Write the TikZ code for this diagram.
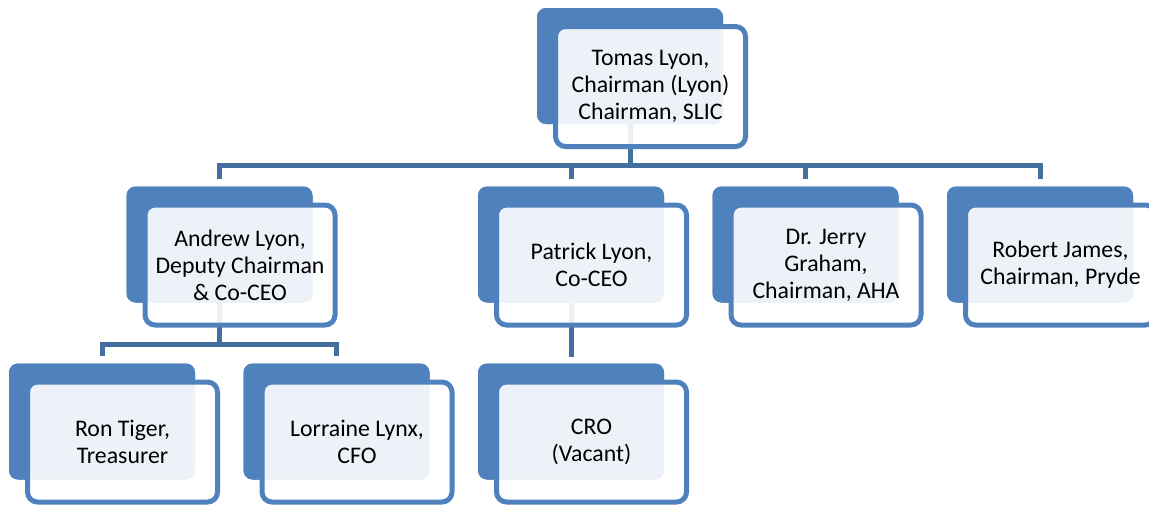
\documentclass[tikz,border=0pt]{standalone}
\usepackage{fontspec}
\setmainfont{Carlito}
\definecolor{boxblue}{HTML}{4F81BD}
\definecolor{connblue}{HTML}{44709F}
\begin{document}
\begin{tikzpicture}[x=1pt,y=-1pt,
  backbox/.style={rectangle, rounded corners=9pt, fill=boxblue, draw=none, inner sep=0pt,
    minimum width=186pt, minimum height=116pt},
  frontbox/.style={rectangle, rounded corners=10pt, draw=boxblue, line width=5pt,
    fill=white, fill opacity=0.9, text opacity=1, text=black, inner sep=2pt,
    minimum width=190pt, minimum height=120pt, align=center,
    font=\fontsize{23.8pt}{27pt}\selectfont, xshift=20.5pt, yshift=-20.5pt},
  conn/.style={draw=connblue, line width=5pt, line join=miter}]
\useasboundingbox (0,0) rectangle (1149,504);
% back boxes
\node[backbox] (tomas) at (630,66) {};
\node[backbox] (andrew) at (219.5,244.5) {};
\node[backbox] (patrick) at (571,244.5) {};
\node[backbox] (jerry) at (805.5,244.5) {};
\node[backbox] (robert) at (1040,244.5) {};
\node[backbox] (ron) at (102,421.5) {};
\node[backbox] (lorraine) at (336.5,421.5) {};
\node[backbox] (cro) at (571,421.5) {};
% connector coordinates
\coordinate (bar1) at (630,165.5);
\coordinate (bar2) at (219.5,344.5);
% connectors (behind boxes)
\draw[conn] (tomas.south) -- (bar1);
\draw[conn] ([yshift=7pt]andrew.north) |- (bar1) -| ([yshift=7pt]robert.north);
\draw[conn] ([yshift=7pt]patrick.north) -- (patrick.north |- bar1);
\draw[conn] ([yshift=7pt]jerry.north) -- (jerry.north |- bar1);
\draw[conn] (andrew.south) -- (bar2);
\draw[conn] ([yshift=7pt]ron.north) |- (bar2) -| ([yshift=7pt]lorraine.north);
\draw[conn] (patrick.south) -- ([yshift=6pt]cro.north);
% redraw back boxes above connectors
\node[backbox] at (tomas) {};
\node[backbox] at (andrew) {};
\node[backbox] at (patrick) {};
\node[backbox] at (jerry) {};
\node[backbox] at (robert) {};
\node[backbox] at (ron) {};
\node[backbox] at (lorraine) {};
\node[backbox] at (cro) {};
% front boxes
\node[frontbox] (tomasF) at (tomas) {Tomas Lyon,\\Chairman (Lyon)\\Chairman, SLIC};
\node[frontbox] (andrewF) at (andrew) {Andrew Lyon,\\Deputy Chairman\\\& Co-CEO};
\node[frontbox] (patrickF) at (patrick) {Patrick Lyon,\\Co-CEO};
\node[frontbox] (jerryF) at (jerry) {Dr. Jerry\\Graham,\\Chairman, AHA};
\node[frontbox] (robertF) at (robert) {Robert James,\\Chairman, Pryde};
\node[frontbox] (ronF) at (ron) {Ron Tiger,\\Treasurer};
\node[frontbox] (lorraineF) at (lorraine) {Lorraine Lynx,\\CFO};
\node[frontbox] (croF) at (cro) {CRO\\(Vacant)};
\end{tikzpicture}
\end{document}
